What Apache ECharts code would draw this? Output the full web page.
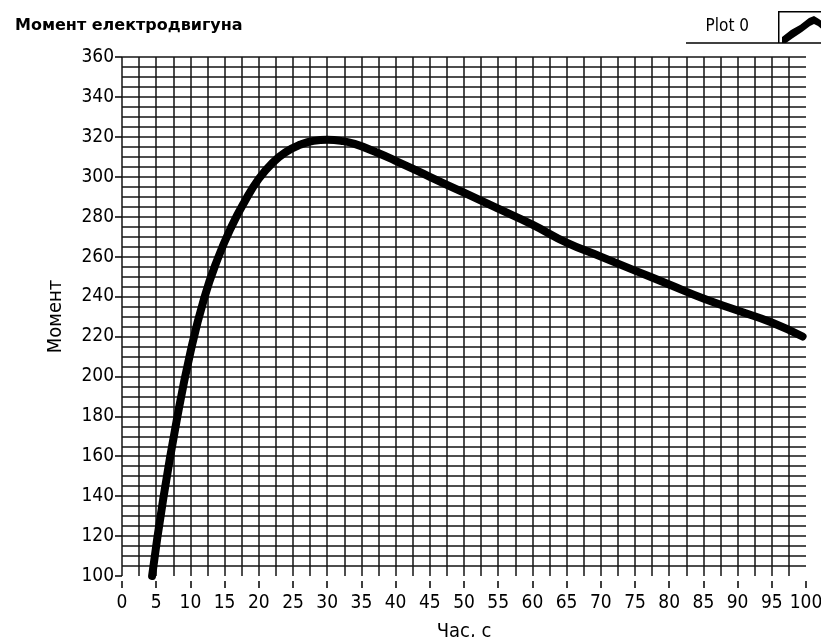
<!DOCTYPE html>
<html>
<head>
<meta charset="utf-8">
<script src="https://cdn.jsdelivr.net/npm/echarts@6/dist/echarts.min.js"></script>
<style>
  html, body { margin: 0; padding: 0; background: #fff; }
  #chartEl { width: 821px; height: 637px; }
</style>
</head>
<body>
<div id="chartEl"></div>
<script>
// час, с
const times = [4.4, 6, 8, 10, 12, 14, 16, 18, 20, 22, 24, 26, 28, 30, 32, 34, 37, 40, 45, 50, 55, 60, 65, 70, 75, 80, 85, 90, 95, 99.5];
// момент
const moment = [100, 138, 178, 212, 239, 259, 275, 288, 299, 307, 312.5, 316, 318, 318.5, 318, 316.5, 312.5, 308, 300, 292, 284, 276, 267, 260, 253, 246, 239, 233, 227, 220];

const xTicks = { min: 0, max: 100, interval: 5 };
const yTicks = { min: 100, max: 360, interval: 20 };

const labelFont = "'DejaVu Sans Condensed', 'Liberation Sans Narrow', sans-serif";
const gridLine = { color: "#151515", width: 1.5 };

const chart = echarts.init(document.getElementById("chartEl"));

const option = {
  animation: false,
  backgroundColor: "#fff",
  title: {
    text: "Момент електродвигуна",
    left: 10,
    top: 13,
    textStyle: {
      fontFamily: "'DejaVu Sans', sans-serif",
      fontWeight: "bold",
      fontSize: 16,
      color: "#000",
    },
  },
  legend: {
    right: -8,
    top: 6,
    align: "right",
    itemWidth: 46,
    itemHeight: 32,
    itemGap: 0,
    symbolKeepAspect: false,
    icon:
      "path://M0,0H46V1.5H0Z M0,0H1.5V32H0Z M4,26L13,19L22,14L31,7L36,5L41,8L46,12L46,20L40,15L36,13L32,15L24,21L15,27L8,32L4,32Z",
    textStyle: { fontFamily: labelFont, fontSize: 17, color: "#000", padding: [0, 24, 0, 0] },
    data: ["Plot 0"],
  },
  graphic: [
    {
      type: "line",
      shape: { x1: 686, y1: 43, x2: 821, y2: 43 },
      style: { stroke: "#000", lineWidth: 1.5 },
    },
  ],
  grid: { left: 122, right: 15, top: 57, bottom: 61, outerBoundsMode: "none" },
  xAxis: {
    type: "value",
    min: xTicks.min,
    max: xTicks.max,
    interval: xTicks.interval,
    offset: 5,
    name: "Час, с",
    nameLocation: "middle",
    nameGap: 41,
    nameTextStyle: { fontFamily: labelFont, fontSize: 20, color: "#000" },
    axisLine: { show: false },
    axisTick: { show: true, length: 7, lineStyle: { color: "#000", width: 1.5 } },
    axisLabel: { fontFamily: labelFont, fontSize: 19, color: "#000", margin: 13 },
    splitLine: { show: true, showMaxLine: false, lineStyle: gridLine },
    minorTick: { show: false, splitNumber: 2 },
    minorSplitLine: { show: true, lineStyle: gridLine },
  },
  yAxis: {
    type: "value",
    min: yTicks.min,
    max: yTicks.max,
    interval: yTicks.interval,
    offset: 5,
    name: "Момент",
    nameLocation: "middle",
    nameGap: 51,
    nameTextStyle: { fontFamily: labelFont, fontSize: 20, color: "#000" },
    axisLine: { show: false },
    axisTick: { show: true, length: 7, lineStyle: { color: "#000", width: 1.5 } },
    axisLabel: { fontFamily: labelFont, fontSize: 19, color: "#000", margin: 3 },
    splitLine: { show: true, showMinLine: false, lineStyle: gridLine },
    minorTick: { show: false, splitNumber: 4 },
    minorSplitLine: { show: true, lineStyle: gridLine },
  },
  series: [
    {
      name: "Plot 0",
      type: "line",
      smooth: true,
      symbol: "none",
      color: "#000",
      lineStyle: { color: "#000", width: 8, cap: "round", join: "round" },
      data: times.map((t, i) => [t, moment[i]]),
    },
  ],
};

chart.setOption(option);
</script>
</body>
</html>
